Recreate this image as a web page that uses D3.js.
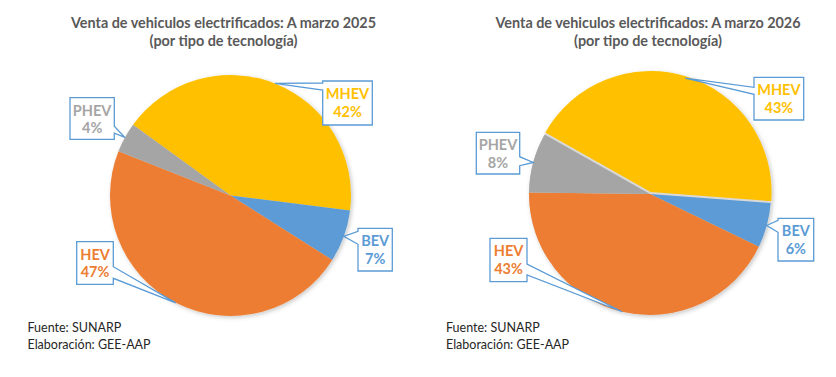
<!DOCTYPE html>
<html>
<head>
<meta charset="utf-8">
<script src="https://cdn.jsdelivr.net/npm/d3@7"></script>
<style>
  html, body { margin: 0; padding: 0; background: #fff; }
  svg { display: block; }
  text { font-family: Lato, "Open Sans", sans-serif; }
</style>
</head>
<body>
<div id="chart"></div>
<script>
// ── Data ─────────────────────────────────────────────────────
const categories = ['MHEV', 'BEV', 'HEV', 'PHEV'];
const colors = ['#FFC000', '#5B9BD5', '#ED7D31', '#A5A5A5'];
const values2025 = [42, 7, 47, 4];
const values2026 = [43, 6, 43, 8];
const titles2025 = ['Venta de vehiculos electrificados: A marzo 2025', '(por tipo de tecnología)'];
const titles2026 = ['Venta de vehiculos electrificados: A marzo 2026', '(por tipo de tecnología)'];
const notes = ['Fuente: SUNARP', 'Elaboración: GEE-AAP'];

// ── Layout (positions only) ──────────────────────────────────
const W = 836, H = 377;
const PANELS = [
  {
    values: values2025, titles: titles2025,
    titleX: 223.5, cx: 230.5, cy: 195.5, r: 120.5, start: -54, explode: 0, noteX: 27.5,
    // callout boxes per category: x, y, w, h, side of wedge, wedge base offsets
    boxes: [
      { x: 322.7, y: 81,    w: 49.6, h: 44,   side: 'left',  b: [2, 9] },
      { x: 358,   y: 228.3, w: 34.3, h: 42.7, side: 'left',  b: [3, 16] },
      { x: 76.7,  y: 241.7, w: 36.6, h: 42.6, side: 'right', b: [25, 36.6] },
      { x: 70,    y: 97.7,  w: 44.3, h: 41.6, side: 'right', b: [28.5, 35.5] }
    ]
  },
  {
    values: values2026, titles: titles2026,
    titleX: 648, cx: 650, cy: 194, r: 121, start: -60.5, explode: 2, noteX: 446,
    boxes: [
      { x: 754,   y: 77.3,  w: 49.7, h: 42.7, side: 'left',  b: [10, 17] },
      { x: 778,   y: 218.3, w: 35.7, h: 42.7, side: 'left',  b: [2, 14] },
      { x: 490,   y: 238.3, w: 37,   h: 43.4, side: 'right', b: [25.7, 36.7] },
      { x: 476.3, y: 132.3, w: 43.4, h: 41.7, side: 'right', b: [24.4, 33.4] }
    ]
  }
];

const svg = d3.select('#chart').append('svg')
  .attr('width', W).attr('height', H)
  .attr('viewBox', `0 0 ${W} ${H}`);

// soft shadow like the spreadsheet pie
const defs = svg.append('defs');
defs.append('filter').attr('id', 'shadow')
  .attr('x', '-20%').attr('y', '-20%').attr('width', '140%').attr('height', '140%')
  .append('feDropShadow')
  .attr('dx', 1.5).attr('dy', 1.5).attr('stdDeviation', 2)
  .attr('flood-color', '#000').attr('flood-opacity', 0.22);

function calloutPath(bx, tip) {
  const { x, y, w, h, side, b } = bx;
  if (side === 'right') {
    return `M${x},${y}H${x + w}V${y + b[0]}L${tip[0]},${tip[1]}L${x + w},${y + b[1]}V${y + h}H${x}Z`;
  }
  return `M${x},${y}H${x + w}V${y + h}H${x}V${y + b[1]}L${tip[0]},${tip[1]}L${x},${y + b[0]}Z`;
}

PANELS.forEach(p => {
  const g = svg.append('g');

  // ── Titles ────────────────────────────────────────────────
  g.append('text')
    .attr('x', p.titleX).attr('y', 28)
    .attr('text-anchor', 'middle')
    .attr('fill', '#595959').attr('font-size', '15px').attr('font-weight', 'bold')
    .attr('textLength', 305).attr('lengthAdjust', 'spacingAndGlyphs')
    .text(p.titles[0]);
  g.append('text')
    .attr('x', p.titleX).attr('y', 45.5)
    .attr('text-anchor', 'middle')
    .attr('fill', '#595959').attr('font-size', '15px').attr('font-weight', 'bold')
    .attr('textLength', 148).attr('lengthAdjust', 'spacingAndGlyphs')
    .text(p.titles[1]);

  // ── Pie ───────────────────────────────────────────────────
  const a0 = p.start * Math.PI / 180;
  const pie = d3.pie().sort(null).startAngle(a0).endAngle(a0 + 2 * Math.PI);
  const arcs = pie(p.values);
  const arc = d3.arc().innerRadius(0).outerRadius(p.r);

  const pg = g.append('g')
    .attr('transform', `translate(${p.cx},${p.cy})`)
    .attr('filter', 'url(#shadow)');

  if (p.explode) {
    pg.append('circle').attr('r', p.r).attr('fill', '#d9d9d9');
  }

  pg.selectAll('path.slice').data(arcs)
    .join('path')
    .attr('class', 'slice')
    .attr('d', arc)
    .attr('fill', (d, i) => colors[i])
    .attr('transform', (d, i) => {
      if (!p.explode || i !== 0) return null;
      const m = (d.startAngle + d.endAngle) / 2;
      return `translate(${p.explode * Math.sin(m)},${-p.explode * Math.cos(m)})`;
    });

  // ── Callouts ──────────────────────────────────────────────
  arcs.forEach((d, i) => {
    const m = (d.startAngle + d.endAngle) / 2;
    const tip = [p.cx + p.r * Math.sin(m), p.cy - p.r * Math.cos(m)];
    const bx = p.boxes[i];
    g.append('path')
      .attr('d', calloutPath(bx, tip))
      .attr('fill', '#fff')
      .attr('stroke', '#5B9BD5').attr('stroke-width', 1.3)
      .attr('stroke-linejoin', 'miter');
    const tx = bx.x + bx.w / 2;
    g.append('text')
      .attr('x', tx).attr('y', bx.y + 18)
      .attr('text-anchor', 'middle')
      .attr('fill', colors[i]).attr('font-size', '14.5px').attr('font-weight', 'bold')
      .text(categories[i]);
    g.append('text')
      .attr('x', tx).attr('y', bx.y + 35.5)
      .attr('text-anchor', 'middle')
      .attr('fill', colors[i]).attr('font-size', '14.5px').attr('font-weight', 'bold')
      .text(`${p.values[i]}%`);
  });

  // ── Notes ─────────────────────────────────────────────────
  notes.forEach((t, i) => {
    g.append('text')
      .attr('x', p.noteX).attr('y', 332 + i * 16.5)
      .attr('fill', '#262626').attr('font-size', '12.5px')
      .text(t);
  });
});
</script>
</body>
</html>
